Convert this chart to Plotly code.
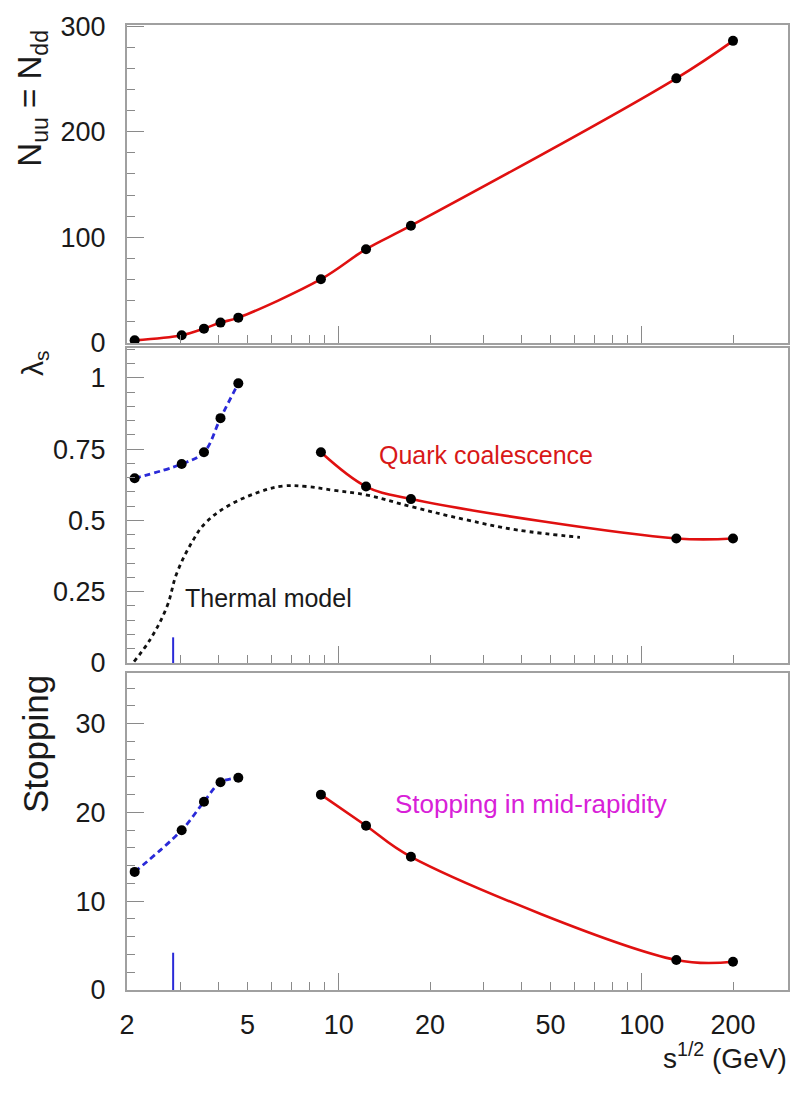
import math
import plotly.graph_objects as go

# ---------------- data ----------------
x_low = [2.12, 3.03, 3.59, 4.07, 4.66]
x_high = [8.73, 12.3, 17.3, 130, 200]

n_low = [2.5, 7.3, 13.6, 19.3, 24.0]
n_high = [60.4, 88.8, 111.0, 250.5, 286.0]

lam_low = [0.648, 0.698, 0.739, 0.859, 0.981]
lam_high = [0.739, 0.619, 0.575, 0.437, 0.437]

stop_low = [13.3, 18.0, 21.2, 23.4, 23.9]
stop_high = [22.0, 18.5, 15.0, 3.38, 3.19]

thermal_x = [2.11, 2.38, 2.71, 2.92, 3.31, 3.62, 4.26, 5.50, 6.56, 7.84,
             9.59, 12.4, 17.4, 26.4, 38.6, 62.5]
thermal_y = [0.005, 0.081, 0.198, 0.315, 0.432, 0.49, 0.548, 0.601, 0.621,
             0.619, 0.606, 0.589, 0.548, 0.502, 0.467, 0.441]

marker_x = [2.84, 2.84]
marker_lam = [0.0, 0.09]
marker_stop = [0.0, 4.2]

x_ticks = [2, 5, 10, 20, 50, 100, 200]
x_minor = [3, 4, 6, 7, 8, 9, 30, 40, 60, 70, 80, 90]
x_long = [10, 100]
n_ticks = [0, 100, 200, 300]
lam_ticks = [0, 0.25, 0.5, 0.75, 1]
lam_text = ["0", "0.25", "0.5", "0.75", "1"]
stop_ticks = [0, 10, 20, 30]

# ---------------- styling ----------------
FONT = "Liberation Sans"
RED = "#e01010"
BLUE = "#2a2ad8"
FRAME = "#a0a0a0"
TICKC = "#8a8a8a"

W, H = 806, 1095
ML, MR, MT, MB = 127, 18, 25, 105
PH = H - MT - MB
PW = W - ML - MR

def dom(top_px, bot_px):
    return [(H - MB - bot_px) / PH, (H - MB - top_px) / PH]

xr = [math.log10(2), 0.301 + (788 - 127) / 303]

fig = go.Figure()

def line(x, y, xa, ya, color, dash=None, width=2.6, smoothing=1.0):
    fig.add_trace(go.Scatter(x=x, y=y, xaxis=xa, yaxis=ya, mode="lines",
                             line=dict(color=color, width=width, shape="spline",
                                       smoothing=smoothing, dash=dash),
                             showlegend=False, hoverinfo="skip"))

def dots(x, y, xa, ya):
    fig.add_trace(go.Scatter(x=x, y=y, xaxis=xa, yaxis=ya, mode="markers",
                             marker=dict(color="black", size=10),
                             showlegend=False, hoverinfo="skip"))

# top panel
line(x_low + x_high, n_low + n_high, "x", "y", RED)
dots(x_low + x_high, n_low + n_high, "x", "y")

# middle panel
line(thermal_x, thermal_y, "x2", "y2", "#111111", dash="4px,4px", width=2.8, smoothing=1.1)
line(x_low, lam_low, "x2", "y2", BLUE, dash="6px,4px", width=2.8)
line(x_high, lam_high, "x2", "y2", RED)
fig.add_trace(go.Scatter(x=marker_x, y=marker_lam, xaxis="x2", yaxis="y2", mode="lines",
                         line=dict(color=BLUE, width=2), showlegend=False, hoverinfo="skip"))
dots(x_low, lam_low, "x2", "y2")
dots(x_high, lam_high, "x2", "y2")

# bottom panel
line(x_low, stop_low, "x3", "y3", BLUE, dash="6px,4px", width=2.8)
line(x_high, stop_high, "x3", "y3", RED)
fig.add_trace(go.Scatter(x=marker_x, y=marker_stop, xaxis="x3", yaxis="y3", mode="lines",
                         line=dict(color=BLUE, width=2), showlegend=False, hoverinfo="skip"))
dots(x_low, stop_low, "x3", "y3")
dots(x_high, stop_high, "x3", "y3")

tickfont = dict(family=FONT, size=27, color="#1a1a1a")

def xaxis(anchor, labels):
    return dict(type="log", range=xr, anchor=anchor, domain=[0, 1],
                tickmode="array", tickvals=x_ticks, ticktext=[str(v) for v in x_ticks],
                showticklabels=labels, ticks="inside", ticklen=8, tickwidth=1.3,
                tickcolor=TICKC, tickfont=tickfont, ticklabelstandoff=10,
                minor=dict(tickmode="array", tickvals=x_minor, ticks="inside",
                           ticklen=8, tickwidth=1.3, tickcolor=TICKC),
                showline=True, mirror=True, linecolor=FRAME, linewidth=2,
                showgrid=False, zeroline=False, fixedrange=True)

def xlong(anchor, over):
    return dict(type="log", range=xr, anchor=anchor, overlaying=over, domain=[0, 1],
                tickmode="array", tickvals=x_long, showticklabels=False,
                ticks="inside", ticklen=17, tickwidth=1.3, tickcolor=TICKC,
                showline=False, showgrid=False, zeroline=False)

def yaxis(anchor, domain, rng, tv, tt, minor_dt):
    return dict(anchor=anchor, domain=domain, range=rng, tickmode="array",
                tickvals=tv, ticktext=tt, ticks="inside", ticklen=17, tickwidth=1.3,
                tickcolor=TICKC, tickfont=tickfont, ticklabelstandoff=14,
                minor=dict(dtick=minor_dt, ticks="inside", ticklen=8,
                           tickwidth=1.3, tickcolor=TICKC),
                showline=True, mirror=True, linecolor=FRAME, linewidth=2,
                showgrid=False, zeroline=False, fixedrange=True)

fig.update_layout(
    width=W, height=H,
    margin=dict(l=ML, r=MR, t=MT, b=MB),
    paper_bgcolor="white", plot_bgcolor="white",
    showlegend=False,
    xaxis=xaxis("y", False),
    xaxis2=xaxis("y2", False),
    xaxis3=xaxis("y3", True),
    xaxis4=xlong("y", "x"),
    xaxis5=xlong("y2", "x2"),
    xaxis6=xlong("y3", "x3"),
    yaxis=yaxis("x", dom(25, 343), [0, 301], n_ticks, [str(v) for v in n_ticks], 20),
    yaxis2=yaxis("x2", dom(348, 663), [0, 1.105], lam_ticks, lam_text, 0.05),
    yaxis3=yaxis("x3", dom(673, 990), [0, 35.7], stop_ticks, [str(v) for v in stop_ticks], 2),
)

# invisible points so the overlay (long-tick) axes are drawn
for xa, ya in (("x4", "y"), ("x5", "y2"), ("x6", "y3")):
    fig.add_trace(go.Scatter(x=[10], y=[0], xaxis=xa, yaxis=ya, mode="markers",
                             marker=dict(opacity=0), showlegend=False, hoverinfo="skip"))

def px_x(px):
    return (px - ML) / PW

ann = []
ann.append(dict(text="N<sub>uu</sub> = N<sub>dd</sub>", textangle=-90, xref="paper", yref="y domain",
                x=px_x(32), y=0.99, xanchor="center", yanchor="top", showarrow=False,
                font=dict(family=FONT, size=33, color="#1a1a1a")))
ann.append(dict(text="λ<sub>s</sub>", textangle=-90, xref="paper", yref="y2 domain",
                x=px_x(34), y=1.0, xanchor="center", yanchor="top", showarrow=False,
                font=dict(family=FONT, size=30, color="#1a1a1a")))
ann.append(dict(text="Stopping", textangle=-90, xref="paper", yref="y3 domain",
                x=px_x(35), y=1.0, xanchor="center", yanchor="top", showarrow=False,
                font=dict(family=FONT, size=35, color="#1a1a1a")))
ann.append(dict(text="s<sup>1/2</sup> (GeV)", xref="paper", yref="paper",
                x=px_x(789), y=(H - MB - 1056) / PH, xanchor="right", yanchor="middle",
                showarrow=False, font=dict(family=FONT, size=28, color="#1a1a1a")))
ann.append(dict(text="Quark coalescence", xref="x2", yref="y2",
                x=math.log10(13.4), y=0.73, xanchor="left", yanchor="middle",
                showarrow=False, font=dict(family=FONT, size=25, color="#d81818")))
ann.append(dict(text="Thermal model", xref="x2", yref="y2",
                x=math.log10(3.06), y=0.228, xanchor="left", yanchor="middle",
                showarrow=False, font=dict(family=FONT, size=25, color="#1a1a1a")))
ann.append(dict(text="Stopping in mid-rapidity", xref="x3", yref="y3",
                x=math.log10(15.1), y=20.9, xanchor="left", yanchor="middle",
                showarrow=False, font=dict(family=FONT, size=26, color="#d820d8")))
fig.update_layout(annotations=ann)

fig.write_html("out.html")
